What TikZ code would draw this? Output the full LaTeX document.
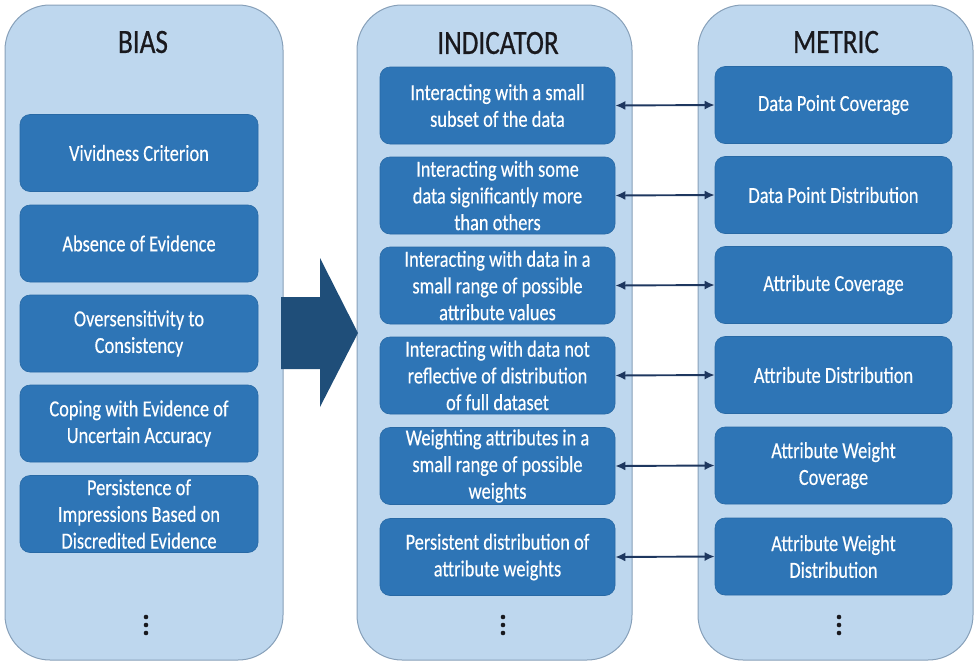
\documentclass[tikz,border=0pt]{standalone}
\usepackage{fontspec}
\setmainfont{Carlito}
\newfontfamily\nfont[FakeStretch=0.8]{Carlito}
\newfontfamily\tfont[FakeStretch=0.8,FakeBold=0.6]{Carlito}
\newfontfamily\bfontx[FakeStretch=0.8,FakeBold=0.3]{Carlito}
\usetikzlibrary{arrows.meta}
\definecolor{panelfill}{RGB}{190,215,238}
\definecolor{panelline}{RGB}{135,160,185}
\definecolor{boxfill}{RGB}{46,117,182}
\definecolor{boxline}{RGB}{40,105,165}
\definecolor{navy}{RGB}{31,78,121}
\definecolor{linkcol}{RGB}{30,55,95}
\definecolor{titlecol}{RGB}{25,25,30}
\begin{document}
\begin{tikzpicture}[x=1pt,y=-1pt,
  panel/.style={draw=panelline, line width=1pt, fill=panelfill, rounded corners=45pt, inner sep=0pt, minimum height=655pt},
  title/.style={font=\tfont\fontsize{34}{40}\selectfont, text=titlecol, inner sep=0pt},
  item/.style={draw=boxline, line width=0.6pt, fill=boxfill, rounded corners=10pt, text=white, align=center, font=\bfontx\fontsize{23}{26.7}\selectfont, inner sep=0pt, minimum height=77pt},
  bitem/.style={item, minimum width=238pt},
  iitem/.style={item, minimum width=235pt},
  mitem/.style={item, minimum width=237pt},
  link/.style={draw=linkcol, line width=1.9pt, {Latex[length=10pt,width=9pt]}-{Latex[length=10pt,width=9pt]}},
  dotc/.style={fill=titlecol}
]
\useasboundingbox (0,0) rectangle (975,667);

% panels
\node[panel, minimum width=278pt] (bpanel) at (144,332.5) {};
\node[panel, minimum width=275pt] (ipanel) at (494.5,332.5) {};
\node[panel, minimum width=275pt] (mpanel) at (835.5,332.5) {};

% titles
\node[title] (btitle) at (143,42) {BIAS};
\node[title] (ititle) at (498,43) {INDICATOR};
\node[title] (mtitle) at (836,42) {METRIC};

% big arrow
\fill[navy] (281,297) -- (320,297) -- (320,258) -- (358,333) -- (320,407) -- (320,369) -- (281,369) -- cycle;

% bias items
\node[bitem] (b1) at (139,153) {Vividness Criterion};
\node[bitem] (b2) at (139,243.5) {Absence of Evidence};
\node[bitem] (b3) at (139,333.5) {Oversensitivity to\\Consistency};
\node[bitem] (b4) at (139,423.5) {Coping with Evidence of\\Uncertain Accuracy};
\node[bitem] (b5) at (139,514) {Persistence of\\Impressions Based on\\Discredited Evidence};

% indicator items
\node[iitem] (i1) at (497.5,105.5) {Interacting with a small\\subset of the data};
\node[iitem] (i2) at (497.5,195.5) {Interacting with some\\data significantly more\\than others};
\node[iitem] (i3) at (497.5,285.5) {Interacting with data in a\\small range of possible\\attribute values};
\node[iitem] (i4) at (497.5,375.5) {Interacting with data not\\reflective of distribution\\of full dataset};
\node[iitem] (i5) at (497.5,466) {Weighting attributes in a\\small range of possible\\weights};
\node[iitem] (i6) at (497.5,557) {Persistent distribution of\\attribute weights};

% metric items
\node[mitem] (m1) at (833.5,105) {Data Point Coverage};
\node[mitem] (m2) at (833.5,195) {Data Point Distribution};
\node[mitem] (m3) at (833.5,285) {Attribute Coverage};
\node[mitem] (m4) at (833.5,375) {Attribute Distribution};
\node[mitem] (m5) at (833.5,465.5) {Attribute Weight\\Coverage};
\node[mitem] (m6) at (833.5,556.5) {Attribute Weight\\Distribution};

% connectors
\foreach \k in {1,...,6} {
  \draw[link] (i\k.east) -- (m\k.west);
}

% ellipsis dots
\foreach \xx in {146,503,839} {
  \foreach \yy in {617,625,633} {
    \fill[dotc] (\xx,\yy) circle (2.3pt);
  }
}
\end{tikzpicture}
\end{document}
